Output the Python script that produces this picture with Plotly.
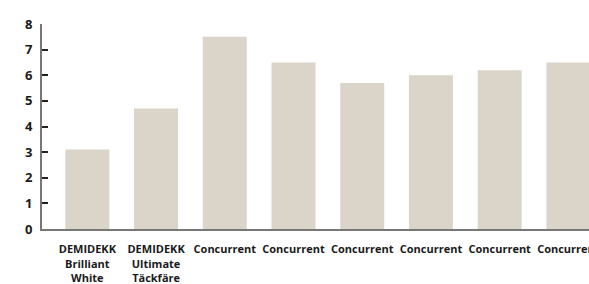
import plotly.graph_objects as go

labels = ["DEMIDEKK<br>Brilliant<br>White", "DEMIDEKK<br>Ultimate<br>Täckfäre",
          "Concurrent", "Concurrent", "Concurrent", "Concurrent", "Concurrent", "Concurrent"]
values = [3.1, 4.7, 7.5, 6.5, 5.7, 6.0, 6.2, 6.5]
positions = list(range(len(values)))
y_ticks = [0, 1, 2, 3, 4, 5, 6, 7, 8]

fig = go.Figure(go.Bar(
    x=positions, y=values,
    marker=dict(color="#dad4c9", line=dict(width=0)),
    width=0.64,
))

fig.update_layout(
    width=589, height=284,
    margin=dict(l=42, r=0, t=24, b=55, autoexpand=False),
    paper_bgcolor="white", plot_bgcolor="white",
    showlegend=False,
    font=dict(family="Open Sans", color="#1a1a1a"),
    xaxis=dict(
        range=[-0.66, 7.30],
        tickvals=positions, ticktext=labels,
        showline=True, linecolor="#777777", linewidth=2,
        showgrid=False, zeroline=False, ticks="",
        tickfont=dict(size=11, weight="bold", color="#1a1a1a"),
        tickangle=0, automargin=False,
        ticklabeloverflow="allow",
        ticklabelstandoff=9,
    ),
    yaxis=dict(
        range=[0, 8],
        tickvals=y_ticks,
        showline=True, linecolor="#777777", linewidth=2,
        showgrid=False, zeroline=False,
        ticks="inside", ticklen=6, tickwidth=1.5, tickcolor="#222222",
        tickfont=dict(size=13, weight="bold", color="#1a1a1a"),
        ticklabelstandoff=5, automargin=False,
    ),
)

fig.write_html("out.html", config={"displayModeBar": False},
               post_script="document.body.style.margin='0';document.body.style.overflow='hidden';")
